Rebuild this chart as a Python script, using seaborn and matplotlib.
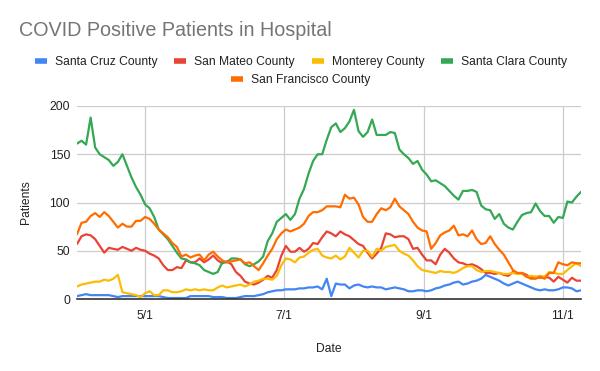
import pandas as pd
import numpy as np
import seaborn as sns
import matplotlib.pyplot as plt
import matplotlib.dates as mdates

# readings every second day, 2020-04-01 .. 2020-11-09
start = "2020-04-01"
step_days = 2

santa_cruz = [3, 4, 5, 4, 4, 4, 4, 4, 3, 2, 3, 3, 3, 3, 3, 3, 3, 3, 3, 2,
              1, 1, 1, 1, 1, 3, 3, 3, 3, 3, 2, 2, 2, 1, 1, 1, 2, 3, 3, 3,
              4, 5, 7, 8, 9, 9, 10, 10, 10, 11, 11, 12, 12, 13, 10, 21, 3, 16, 15, 15,
              11, 14, 15, 13, 12, 13, 12, 12, 10, 11, 12, 11, 10, 8, 8, 9, 9, 8, 9, 11,
              12, 14, 15, 17, 18, 15, 16, 18, 19, 21, 25, 23, 21, 19, 16, 14, 16, 18, 16, 14,
              12, 10, 9, 10, 9, 9, 10, 12, 12, 11, 8, 9]
san_mateo = [57, 65, 67, 66, 62, 55, 48, 53, 52, 51, 54, 52, 50, 53, 51, 50, 47, 45, 42, 35,
             30, 30, 33, 32, 40, 38, 38, 42, 38, 41, 45, 40, 37, 39, 36, 28, 24, 18, 16, 15,
             17, 20, 24, 22, 30, 45, 55, 49, 49, 53, 49, 52, 58, 57, 64, 70, 68, 65, 70, 67,
             65, 61, 57, 55, 48, 42, 47, 53, 68, 67, 64, 65, 65, 62, 52, 53, 46, 40, 40, 36,
             46, 52, 48, 42, 38, 37, 35, 36, 34, 31, 27, 27, 26, 27, 25, 24, 28, 26, 27, 25,
             22, 23, 22, 23, 22, 18, 23, 20, 17, 22, 19, 19]
monterey = [13, 15, 16, 17, 18, 18, 20, 19, 21, 25, 7, 6, 5, 4, 2, 6, 8, 4, 4, 9,
            9, 7, 7, 8, 10, 9, 10, 9, 10, 9, 9, 12, 14, 12, 13, 14, 15, 13, 15, 18,
            19, 21, 21, 20, 24, 35, 42, 41, 38, 43, 44, 48, 51, 52, 45, 43, 42, 45, 41, 44,
            53, 48, 43, 50, 50, 44, 52, 50, 54, 55, 56, 50, 47, 45, 40, 34, 30, 29, 28, 27,
            29, 28, 28, 27, 29, 32, 34, 34, 30, 28, 29, 29, 28, 27, 26, 26, 27, 26, 26, 23,
            24, 23, 24, 23, 28, 27, 26, 26, 30, 34, 37, 34]
santa_clara = [161, 164, 160, 188, 157, 150, 147, 144, 138, 142, 150, 138, 126, 116, 108, 98, 94, 85, 72, 67,
               62, 55, 48, 42, 41, 38, 37, 35, 30, 28, 26, 28, 38, 38, 42, 42, 41, 36, 34, 36,
               39, 44, 60, 68, 80, 84, 88, 82, 88, 104, 114, 130, 143, 150, 150, 165, 178, 182, 173, 177,
               184, 196, 174, 168, 173, 186, 170, 170, 170, 173, 172, 155, 150, 146, 140, 143, 134, 129, 122, 123,
               120, 117, 112, 107, 103, 112, 112, 113, 111, 97, 93, 92, 83, 88, 78, 74, 72, 80, 87, 89,
               90, 99, 91, 86, 86, 79, 85, 84, 101, 100, 106, 111]
san_francisco = [67, 79, 80, 86, 89, 85, 90, 86, 80, 74, 78, 75, 75, 81, 81, 85, 83, 78, 72, 68,
                 64, 58, 54, 44, 46, 43, 45, 46, 40, 46, 49, 44, 40, 38, 39, 40, 41, 37, 38, 34,
                 30, 37, 45, 52, 62, 68, 72, 70, 72, 74, 78, 86, 90, 90, 92, 96, 96, 96, 95, 108,
                 104, 105, 98, 85, 80, 80, 88, 94, 92, 95, 104, 96, 92, 88, 80, 74, 71, 70, 52, 58,
                 66, 69, 71, 76, 66, 67, 65, 71, 62, 57, 58, 65, 57, 51, 46, 38, 30, 27, 27, 23,
                 21, 21, 23, 21, 27, 27, 38, 36, 35, 38, 37, 37]

counties = ["Santa Cruz County", "San Mateo County", "Monterey County",
            "Santa Clara County", "San Francisco County"]
colors = ["#4285F4", "#EA4335", "#FBBC04", "#34A853", "#FF6D01"]
series = [santa_cruz, san_mateo, monterey, santa_clara, san_francisco]

frames = []
for name, vals in zip(counties, series):
    dates = pd.date_range(start, periods=len(vals), freq=f"{step_days}D")
    frames.append(pd.DataFrame({"Date": dates, "Patients": vals, "County": name}))
df = pd.concat(frames, ignore_index=True)

sns.set_style("white")
plt.rcParams["font.family"] = ["Liberation Sans", "DejaVu Sans"]

fig = plt.figure(figsize=(6, 3.71), dpi=100)
ax = fig.add_axes([77 / 600, 1 - 299 / 371, 504 / 600, 193 / 371])

sns.lineplot(data=df, x="Date", y="Patients", hue="County", hue_order=counties,
             palette=colors, linewidth=1.6, ax=ax, legend=True)

ax.set_ylim(0, 200)
ax.set_xlim(pd.Timestamp(start), df["Date"].max())
ax.set_yticks([0, 50, 100, 150, 200])
ticks = pd.to_datetime(["2020-05-01", "2020-07-01", "2020-09-01", "2020-11-01"])
ax.set_xticks(ticks)
ax.xaxis.set_major_formatter(mdates.DateFormatter("%-m/%-d"))
ax.grid(True, color="#cccccc", linewidth=0.9)
ax.set_axisbelow(True)
ax.tick_params(length=0, labelsize=8.7, colors="#222222", pad=5)
ax.tick_params(axis="x", pad=8)
for s in ["top", "right", "left"]:
    ax.spines[s].set_visible(False)
ax.spines["bottom"].set_color("#333333")
ax.spines["bottom"].set_linewidth(1.2)
ax.spines["bottom"].set_zorder(5)

ax.set_xlabel("Date", fontsize=8.7, color="#222222", labelpad=15)
ax.set_ylabel("Patients", fontsize=8.7, color="#222222", labelpad=13)

handles, labels = ax.get_legend_handles_labels()
ax.get_legend().remove()
for h in handles:
    h.set_linewidth(4)
    h.set_solid_capstyle("butt")
leg_kw = dict(frameon=False, fontsize=8.7, handlelength=1.0, handletextpad=0.66,
              columnspacing=1.4, labelcolor="#222222")
fig.legend(handles[:4], labels[:4], ncol=4, loc="center",
           bbox_to_anchor=(301 / 600, 1 - 62 / 371), **leg_kw)
fig.legend(handles[4:], labels[4:], ncol=1, loc="center",
           bbox_to_anchor=(301 / 600, 1 - 80 / 371), **leg_kw)

fig.text(19 / 600, 1 - 31 / 371, "COVID Positive Patients in Hospital",
         fontsize=14.2, color="#757575", va="center", ha="left")

fig.savefig("out.png", dpi=100)
